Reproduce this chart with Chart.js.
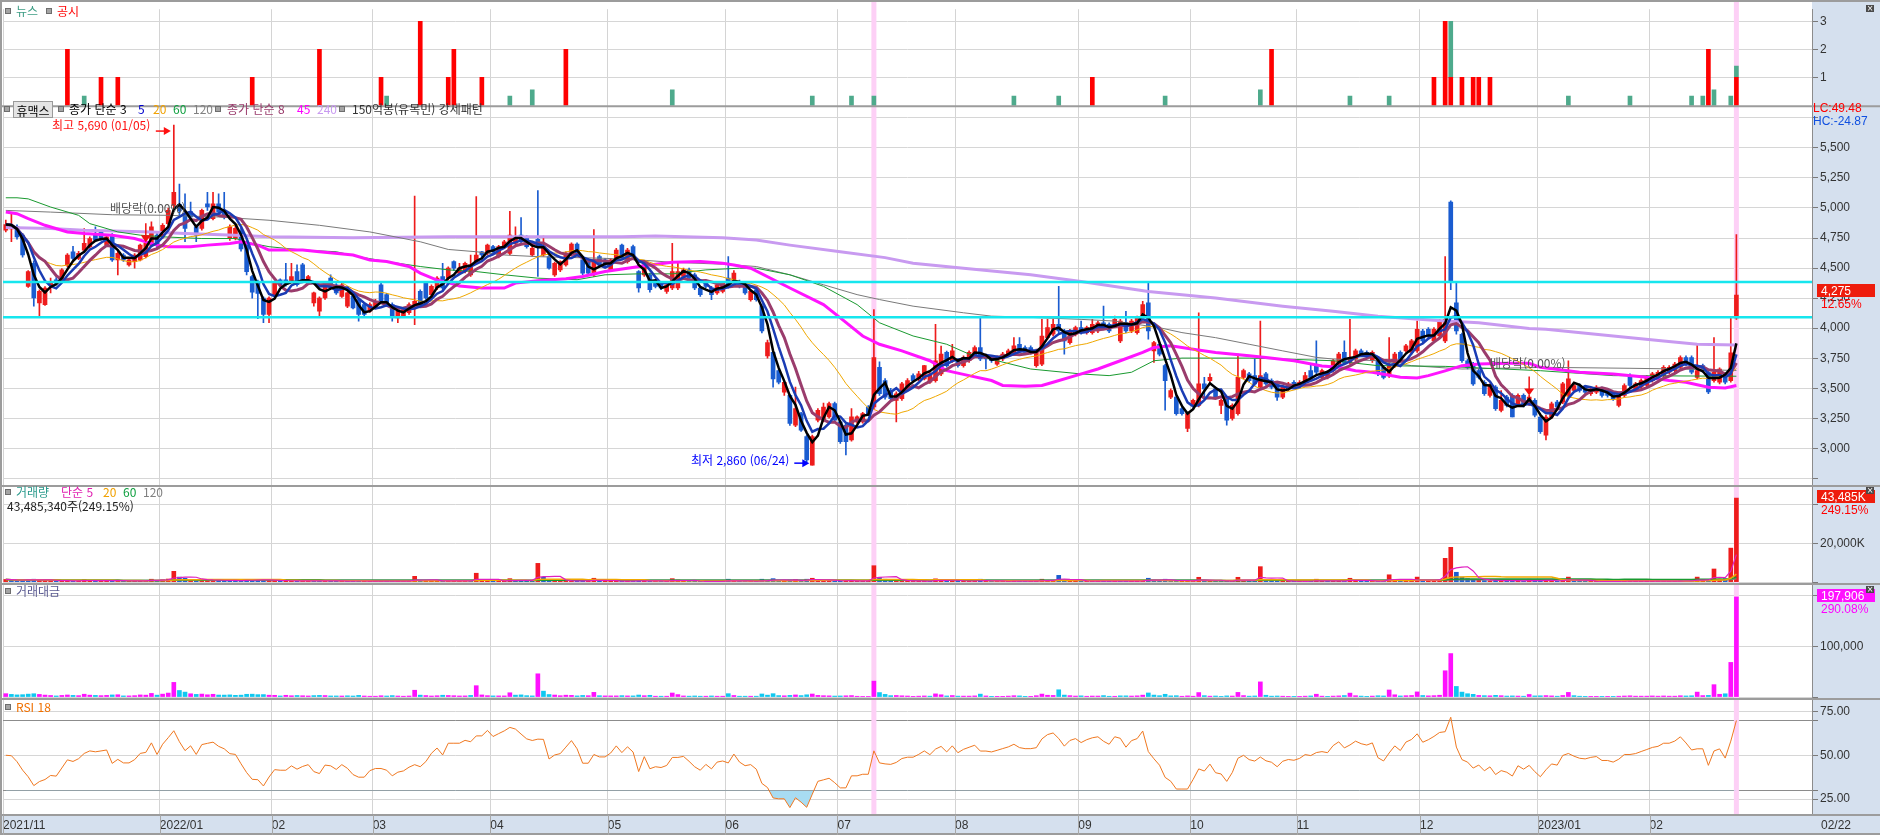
<!DOCTYPE html>
<html lang="ko">
<head>
<meta charset="utf-8">
<title>휴맥스 일봉</title>
<script src="https://cdn.jsdelivr.net/npm/chart.js@4.4.0/dist/chart.umd.min.js"></script>
<style>
html, body { margin: 0; padding: 0; overflow: hidden; background: #fff; }
#wrap { position: relative; width: 1880px; height: 835px; overflow: hidden; }
#wrap canvas { position: absolute; left: 0; top: 0; }
.t { position: absolute; white-space: nowrap; font: 12px "Noto Sans CJK KR", sans-serif; line-height: 14px; }
.n { position: absolute; white-space: nowrap; font: 12px "Liberation Sans", sans-serif; line-height: 14px; }
.sq { position: absolute; width: 4px; height: 4px; background: #a4a4a4; border: 1px solid #6e6e6e; }
.btn { position: absolute; width: 38px; height: 15px; line-height: 15px; text-align: center; background: #e4e4e4; border: 1px solid #9a9a9a; font: 12px "Noto Sans CJK KR", sans-serif; color: #000; }
.box { position: absolute; left: 1817px; width: 54px; height: 13px; line-height: 13px; padding-left: 4px; color: #fff; font: 12px "Liberation Sans", sans-serif; }
.x { position: absolute; left: 1866px; width: 8px; height: 7px; background: #4a4a4a; color: #fff; font: 8px/7px "DejaVu Sans", sans-serif; text-align: center; }
</style>
</head>
<body>
<div id="wrap">
<canvas id="c" width="1880" height="835"></canvas>

<!-- panel legends -->
<div class="sq" style="left:5px;top:8px"></div>
<span class="t" style="left:16px;top:4px;color:#3c9c84">뉴스</span>
<div class="sq" style="left:46px;top:8px"></div>
<span class="t" style="left:57px;top:4px;color:#ff0000">공시</span>

<div class="sq" style="left:4px;top:106px"></div>
<span class="btn" style="left:13px;top:101px">휴맥스</span>
<div class="sq" style="left:58px;top:106px"></div>
<span class="t" style="left:69px;top:102px;color:#000">종가 단순 3</span>
<span class="t" style="left:138px;top:102px;color:#0000cc">5</span>
<span class="t" style="left:153px;top:102px;color:#f0a000">20</span>
<span class="t" style="left:173px;top:102px;color:#10a040">60</span>
<span class="t" style="left:193px;top:102px;color:#808080">120</span>
<div class="sq" style="left:215px;top:106px"></div>
<span class="t" style="left:227px;top:102px;color:#9a3c6c">종가 단순 8</span>
<span class="t" style="left:297px;top:102px;color:#ff00ff">45</span>
<span class="t" style="left:317px;top:102px;color:#c89af0">240</span>
<div class="sq" style="left:339px;top:106px"></div>
<span class="t" style="left:352px;top:102px;color:#333">150억봉(유목민) 강세패턴</span>

<span class="t" style="left:52px;top:118px;color:#ff1010">최고 5,690 (01/05)</span>
<span class="t" style="left:691px;top:453px;color:#0000ff">최저 2,860 (06/24)</span>
<span class="t" style="left:110px;top:201px;color:#555">배당락(0.00%)</span>
<span class="t" style="left:1490px;top:356px;color:#555">배당락(0.00%)</span>

<div class="sq" style="left:5px;top:489px"></div>
<span class="t" style="left:16px;top:485px;color:#2a9a8c">거래량</span>
<span class="t" style="left:61px;top:485px;color:#e020b0">단순 5</span>
<span class="t" style="left:103px;top:485px;color:#f0a000">20</span>
<span class="t" style="left:123px;top:485px;color:#10a040">60</span>
<span class="t" style="left:143px;top:485px;color:#808080">120</span>
<span class="t" style="left:7px;top:499px;color:#222">43,485,340주(249.15%)</span>

<div class="sq" style="left:5px;top:588px"></div>
<span class="t" style="left:16px;top:584px;color:#5a5a90">거래대금</span>

<div class="sq" style="left:5px;top:704px"></div>
<span class="t" style="left:16px;top:700px;color:#f07000">RSI 18</span>

<!-- right axis tags -->
<span class="n" style="left:1813px;top:101px;color:#ff0000">LC:49.48</span>
<span class="n" style="left:1813px;top:114px;color:#1050e0">HC:-24.87</span>
<div class="box" style="top:284px;background:#ee1c0c">4,275</div>
<span class="n" style="left:1821px;top:297px;color:#ff0000">12.65%</span>
<div class="box" style="top:490px;background:#ee1c0c">43,485K</div>
<span class="n" style="left:1821px;top:503px;color:#ff0000">249.15%</span>
<div class="box" style="top:589px;background:#ff10ff">197,906</div>
<span class="n" style="left:1821px;top:602px;color:#ff00ff">290.08%</span>
<span class="n" style="left:1821px;top:818px;color:#333">02/22</span>
<div class="x" style="top:5px">×</div>
<div class="x" style="top:487px">×</div>
<div class="x" style="top:586px">×</div>
</div>

<script>
// daily candles, 2021/11/23 ~ 2023/02/22 (index 0 = first day)
var open = [4815,4825,4845,4774,4348,4540,4210,4196,4361,4403, 4403,4526,4636,4581,4650,4678,4774,4801,4691,4774,
 4568,4609,4526,4554,4568,4595,4691,4774,4760,4870, 5021,5030,4940,4970,4843,4829,5035,4911,5035,4980,
 4746,4746,4810,4691,4430,4375,4251,4114,4279,4403, 4403,4389,4471,4526,4375,4210,4141,4251,4416,4361,
 4265,4183,4265,4238,4196,4141,4169,4361,4279,4196, 4086,4100,4128,4169,4306,4375,4279,4334,4430,4416,
 4554,4458,4471,4444,4554,4636,4623,4678,4595,4678, 4623,4705,4774,4760,4609,4740,4609,4595,4444,4485,
 4526,4609,4700,4568,4568,4444,4595,4568,4485,4581, 4691,4554,4678,4471,4444,4444,4389,4375,4306,4334,
 4334,4430,4485,4444,4334,4389,4334,4293,4306,4416, 4389,4389,4361,4238,4320,4183,3770,3798,3646,3468,
 3440,3193,3289,3097,2860,3234,3234,3262,3372,3220, 3193,3069,3220,3220,3344,3344,3674,3564,3481,3399,
 3413,3495,3605,3578,3578,3550,3564,3619,3798,3729, 3729,3688,3729,3784,3839,3770,3756,3701,3743,3784,
 3798,3866,3839,3839,3688,3701,3921,3949,4031,3976, 3880,3949,4004,3963,3963,3976,4045,4031,4031,3894,
 4045,3976,3963,4100,4210,3811,3866,3688,3426,3426, 3330,3165,3358,3358,3536,3564,3495,3358,3413,3248,
 3289,3591,3619,3605,3509,3619,3564,3536,3426,3495, 3550,3523,3550,3646,3688,3591,3591,3646,3701,3798,
 3715,3743,3811,3798,3729,3729,3674,3605,3688,3798, 3811,3798,3811,3976,3990,3894,3935,3894,5050,4210,
 3949,3729,3701,3646,3550,3440,3509,3316,3426,3440, 3371,3440,3371,3399,3261,3110,3261,3385,3385,3440,
 3481,3523,3509,3454,3468,3495,3481,3454,3358,3440, 3605,3495,3509,3523,3564,3591,3605,3633,3646,3674,
 3756,3756,3591,3688,3633,3564,3550,3591,3564,4086];
var high = [4900,4950,4860,4790,4480,4560,4320,4345,4416,4420, 4495,4620,4680,4640,4829,4760,4843,4815,4770,4788,
 4640,4620,4580,4620,4700,4715,4884,4790,4870,5000, 5690,5200,5118,5050,4860,4990,5131,5131,5118,5131,
 4860,4850,4830,4700,4440,4400,4260,4260,4390,4410, 4540,4540,4526,4540,4440,4300,4260,4390,4444,4370,
 4375,4300,4280,4250,4210,4210,4240,4375,4290,4210, 4150,4165,4210,5100,4320,4390,4360,4430,4540,4510,
 4560,4540,4550,4609,5096,4640,4700,4690,4690,4730, 4972,4843,4920,4770,4680,5145,4766,4610,4550,4560,
 4636,4710,4710,4580,4580,4821,4609,4581,4581,4664, 4700,4664,4691,4480,4540,4458,4400,4390,4375,4705,
 4540,4499,4499,4458,4348,4400,4348,4375,4389,4595, 4480,4400,4375,4320,4334,4200,3900,3810,3660,3560,
 3450,3509,3300,3110,3110,3330,3377,3385,3385,3230, 3200,3330,3270,3300,3355,4155,3720,3580,3500,3470,
 3550,3580,3620,3640,3690,3630,4031,3850,3810,3866, 3740,3770,3811,3853,4086,3784,3770,3770,3798,3825,
 3921,3921,3853,3853,3825,4073,4073,4073,4348,3990, 3990,4018,4059,4018,4073,4059,4183,4045,4100,4073,
 4141,4073,4100,4224,4375,3890,3880,3700,3495,3440, 3344,3300,3410,4128,3591,3619,3509,3410,3426,3371,
 3784,3660,3633,3743,4059,3633,3578,3550,3523,3550, 3564,3564,3633,3701,3894,3660,3646,3740,3798,3894,
 4073,3825,3825,3811,3811,3743,3688,3921,3798,3811, 3866,3908,4059,3990,4004,4004,4073,4595,5060,4375,
 3960,3743,3715,3660,3564,3536,3523,3481,3440,3454, 3454,3454,3440,3413,3275,3275,3385,3399,3550,3729,
 3536,3536,3523,3509,3523,3509,3495,3468,3468,3536, 3619,3550,3578,3605,3633,3646,3688,3688,3715,3770,
 3770,3770,3866,3701,3646,3921,3670,3605,4086,4779];
var low = [4800,4720,4740,4590,4340,4183,4100,4190,4293,4360, 4390,4510,4570,4570,4640,4665,4720,4730,4680,4555,
 4444,4555,4515,4499,4560,4585,4680,4664,4746,4860, 5000,4940,4720,4900,4719,4815,4980,4900,4939,4910,
 4730,4735,4640,4444,4250,4080,4045,4045,4265,4350, 4350,4380,4350,4390,4365,4183,4100,4240,4350,4280,
 4255,4170,4160,4059,4100,4130,4160,4210,4180,4059, 4045,4090,4115,4030,4180,4240,4265,4320,4320,4400,
 4480,4450,4460,4430,4540,4590,4610,4620,4585,4670, 4610,4690,4710,4665,4600,4430,4600,4490,4430,4470,
 4515,4600,4610,4444,4444,4430,4515,4510,4470,4570, 4570,4540,4585,4300,4430,4300,4335,4320,4290,4320,
 4320,4416,4400,4320,4265,4334,4238,4280,4293,4334, 4375,4334,4280,4225,4224,3960,3750,3509,3535,3440,
 3190,3180,3140,2890,2860,3220,3220,3250,3220,3040, 2946,3060,3210,3210,3280,3330,3440,3410,3400,3220,
 3399,3480,3550,3560,3570,3540,3550,3605,3675,3715, 3675,3675,3715,3770,3729,3660,3715,3690,3729,3770,
 3784,3798,3784,3784,3675,3688,3908,3935,3963,3784, 3866,3935,3949,3949,3949,3963,3990,3963,4018,3880,
 3963,3963,3949,4086,3908,3715,3770,3317,3413,3275, 3275,3138,3344,3344,3426,3550,3413,3289,3193,3234,
 3275,3578,3550,3523,3495,3523,3495,3399,3413,3481, 3509,3509,3536,3578,3619,3578,3578,3633,3688,3701,
 3701,3729,3770,3756,3715,3605,3578,3591,3674,3715, 3798,3784,3798,3880,3921,3880,3921,3880,4320,3949,
 3715,3660,3523,3578,3440,3426,3316,3303,3344,3261, 3358,3344,3358,3261,3124,3069,3248,3330,3371,3426,
 3468,3468,3454,3440,3454,3426,3426,3399,3344,3426, 3509,3481,3495,3509,3550,3578,3591,3619,3633,3660,
 3688,3619,3578,3633,3454,3550,3536,3536,3550,4073];
var close = [4862,4855,4760,4609,4471,4251,4306,4334,4389,4375, 4485,4609,4581,4623,4705,4746,4733,4746,4760,4568,
 4623,4568,4568,4609,4691,4705,4843,4691,4856,4980, 5131,4975,4830,4925,4774,4980,5008,5035,4966,4925,
 4843,4830,4660,4471,4300,4290,4114,4251,4375,4361, 4361,4430,4361,4403,4430,4293,4251,4375,4361,4293,
 4361,4293,4169,4114,4114,4196,4224,4224,4196,4100, 4141,4155,4196,4224,4196,4251,4348,4416,4334,4499,
 4499,4499,4540,4526,4609,4610,4691,4636,4678,4719, 4774,4760,4719,4678,4664,4680,4678,4499,4540,4554,
 4623,4700,4623,4458,4458,4554,4526,4526,4568,4650, 4581,4650,4595,4334,4526,4320,4348,4334,4361,4471,
 4471,4485,4416,4334,4279,4348,4279,4361,4375,4348, 4458,4348,4293,4306,4238,3976,3880,3578,3550,3550,
 3207,3330,3152,2904,3097,3317,3344,3372,3234,3056, 3056,3262,3262,3289,3289,3756,3454,3426,3413,3454,
 3536,3564,3564,3619,3688,3619,3729,3784,3688,3811, 3688,3756,3798,3839,3743,3743,3729,3756,3784,3811,
 3853,3811,3798,3798,3811,3935,4004,4031,3976,3894, 3976,4004,3963,4004,4031,4045,4004,3976,4073,4059,
 3976,4059,4086,4196,3976,3880,3784,3564,3481,3289, 3289,3289,3399,3536,3495,3591,3426,3399,3234,3358,
 3591,3646,3564,3536,3605,3536,3509,3426,3509,3536, 3523,3550,3605,3591,3633,3646,3633,3729,3784,3715,
 3756,3811,3784,3770,3798,3633,3591,3688,3784,3729, 3853,3894,3990,3894,3935,3990,4059,4073,4389,3976,
 3729,3674,3536,3591,3454,3523,3330,3399,3358,3261, 3440,3358,3426,3275,3138,3261,3371,3344,3536,3578,
 3523,3481,3468,3495,3509,3440,3440,3413,3454,3523, 3523,3536,3564,3591,3619,3633,3674,3674,3701,3756,
 3701,3633,3646,3646,3470,3633,3660,3550,3795,4275];

// volume (thousand shares) and trading value (million won)
var volume = [1400,1100,900,1000,1300,1500,1200,900,700,500, 700,900,700,600,1200,800,700,600,700,900,
 1000,500,500,600,900,800,1500,800,1200,1600, 5600,2600,2000,1300,1100,1200,900,1100,800,800,
 900,700,800,1200,1300,1100,1200,900,800,500, 800,600,700,600,500,700,800,700,500,500,
 500,600,500,800,500,400,400,600,500,700, 500,400,500,3000,900,700,500,600,800,700,
 600,500,500,700,4600,900,600,500,500,500, 1800,800,900,600,500,9700,2500,1100,900,600,
 800,700,500,700,600,2000,600,500,500,500, 600,500,500,900,600,800,400,400,400,1800,
 1100,500,400,500,400,400,500,400,400,1500, 700,400,400,400,400,1500,1000,1800,800,700,
 1000,1300,900,1500,2000,1000,800,700,600,700, 800,900,500,400,400,8500,2500,1500,800,900,
 700,600,400,500,600,500,1700,1200,600,800, 500,500,500,600,1500,600,400,400,400,500,
 700,600,400,400,700,1500,900,800,3500,1000, 700,500,600,400,500,500,700,400,400,600,
 600,500,600,900,2000,1000,700,1500,700,800, 500,700,500,2500,800,500,600,400,700,600,
 2500,800,500,600,8000,1000,500,600,500,400, 400,400,500,600,1500,500,400,500,600,800,
 2000,700,500,400,500,700,600,3800,1200,600, 700,800,2600,800,600,700,900,12300,18000,5100,
 2600,1800,1500,900,800,700,1000,800,600,700, 600,500,1500,700,800,900,700,500,900,2600,
 800,500,400,400,400,400,400,400,500,600, 700,500,500,500,600,500,600,500,500,700,
 600,700,2600,800,900,6800,1500,1800,17600,43485];
var amount = [6700,5300,4300,4700,5800,6600,5200,3900,3100,2200, 3200,4100,3300,2800,5600,3800,3300,2800,3300,4200,
 4600,2300,2300,2800,4200,3800,7200,3800,5800,7900, 29000,13000,9800,6500,5300,5900,4500,5500,4000,3900,
 4300,3400,3800,5500,5700,4800,4900,3700,3400,2200, 3500,2600,3100,2600,2200,2900,3300,3000,2200,2200,
 2100,2500,2100,3300,2100,1700,1700,2600,2100,2900, 2100,1700,2100,13500,3800,3000,2100,2600,3600,3100,
 2700,2200,2300,3200,22500,4200,2800,2300,2300,2300, 8500,3800,4300,2800,2300,46000,11700,5000,4000,2700,
 3700,3300,2300,3200,2700,9300,2700,2300,2300,2300, 2800,2300,2300,4000,2700,3500,1700,1700,1700,8000,
 4900,2200,1800,2200,1700,1700,2200,1700,1700,6700, 3100,1700,1700,1700,1700,6100,3800,6700,2900,2500,
 3300,4200,2900,4500,6000,3300,2700,2400,2000,2200, 2500,2900,1600,1300,1300,31500,8900,5300,2800,3100,
 2500,2100,1400,1800,2200,1800,6300,4500,2200,3000, 1900,1900,1900,2300,5800,2200,1500,1500,1500,1900,
 2700,2300,1500,1500,2700,5900,3600,3200,14400,3900, 2800,2000,2400,1600,2000,2000,2900,1600,1600,2400,
 2400,2000,2400,3800,8100,3900,2700,5500,2400,2700, 1600,2300,1700,8900,2800,1800,2100,1400,2300,2000,
 9200,2900,1800,2200,30000,3600,1800,2100,1700,1400, 1400,1400,1800,2200,5600,1800,1500,1900,2300,3000,
 7800,2700,1900,1500,1900,2600,2200,14000,4500,2200, 2700,3100,10200,3100,2400,2800,3600,52000,86000,21000,
 9800,6600,5400,3200,2800,2500,3400,2700,2000,2300, 2000,1700,5100,2300,2500,2900,2300,1700,3100,9200,
 2800,1700,1400,1400,1400,1400,1400,1400,1700,2100, 2500,1800,1800,1800,2200,1800,2200,1800,1800,2600,
 2200,2600,9800,2900,3300,24500,5500,6500,68500,197906];

// news / disclosure counts by day index
var discIdx = [11,17,20,44,56,67,74,79,80,85,100,194,226,255,257,258,260,262,263,265,304,309];
var discVal = [2,1,1,1,2,1,3,1,2,1,2,1,2,1,3,1,1,1,1,1,2,1];
var newsIdx = [14,68,90,94,119,144,151,155,180,188,207,224,240,247,258,279,290,301,303,305,308,309];
var newsVal = [0.33,0.33,0.33,0.55,0.55,0.33,0.33,0.33,0.33,0.33,0.33,0.55,0.33,0.33,2,0.33,0.33,0.33,0.33,0.55,0.33,0.4];

// long moving averages (index, price)
var ma45Idx = [0,2,4,7,11,14,19,23,27,29,33,36,40,42,45,47,53,56,62,65,68,72,74,77,79,81,85,89,91,95,100,103,107,111,115,119,124,128,130,133,140,146,149,153,156,160,165,168,172,176,178,182,185,187,191,195,199,203,205,208,212,216,222,225,230,235,238,241,244,249,252,254,257,260,263,268,272,274,281,287,293,297,300,304,307,309];
var ma45Val = [4966,4953,4911,4856,4801,4788,4774,4746,4691,4678,4678,4691,4705,4719,4691,4650,4650,4636,4609,4568,4554,4513,4458,4400,4380,4350,4334,4334,4375,4394,4411,4430,4471,4499,4526,4548,4554,4540,4526,4499,4334,4196,4086,3935,3866,3811,3729,3646,3605,3564,3523,3517,3523,3550,3605,3660,3729,3798,3839,3853,3825,3798,3770,3756,3729,3685,3674,3646,3633,3591,3585,3605,3645,3688,3701,3707,3707,3674,3633,3619,3591,3564,3550,3509,3503,3523];
var ma60Idx = [0,2,4,8,13,15,17,20,24,28,35,41,44,47,53,59,63,68,74,79,84,89,95,102,107,113,119,125,131,134,140,146,152,156,162,168,172,177,183,192,197,201,205,210,222,228,237,245,257,274,287,309];
var ma60Val = [5085,5085,5076,5008,4939,4870,4843,4801,4774,4760,4746,4746,4705,4678,4650,4636,4595,4554,4513,4485,4471,4444,4416,4403,4444,4452,4452,4485,4499,4499,4444,4348,4196,4045,3935,3866,3784,3729,3660,3619,3605,3633,3729,3751,3751,3743,3729,3688,3682,3646,3605,3600];
var ma120Idx = [0,8,19,29,38,47,56,65,74,79,84,89,95,107,113,119,128,134,140,146,152,156,162,171,176,180,192,198,202,206,210,216,222,228,234,237,245,251,260,275,290,299,305,309];
var ma120Val = [4980,4966,4944,4939,4925,4898,4856,4801,4719,4655,4636,4609,4595,4581,4568,4548,4532,4513,4444,4361,4279,4238,4183,4128,4100,4095,4073,4059,4031,4004,3963,3921,3866,3811,3757,3743,3729,3688,3660,3674,3666,3660,3652,3648];
var ma240Idx = [0,8,14,26,32,41,47,62,79,84,110,116,128,134,140,149,157,162,171,183,192,204,216,228,237,245,253,257,263,272,275,287,296,302,309];
var ma240Val = [4837,4829,4815,4801,4788,4774,4760,4752,4760,4760,4760,4766,4752,4733,4691,4636,4587,4540,4499,4444,4389,4306,4251,4183,4141,4100,4073,4059,4045,3998,3990,3935,3894,3866,3860];

var hLines = [4385, 4090];         // user drawn lines
var markDays = [155, 309];         // highlighted days
var divDays = [25, 272];           // ex-dividend markers
var monthIdx = [0, 28, 48, 66, 87, 108, 129, 149, 170, 192, 212, 231, 253, 274, 294];
var monthLab = ['2021/11', '2022/01', '02', '03', '04', '05', '06', '07', '08', '09', '10', '11', '12', '2023/01', '02'];
var priceTicks = [2750, 3000, 3250, 3500, 3750, 4000, 4250, 4500, 4750, 5000, 5250, 5500, 5750];
var newsTicks = [1, 2, 3];
var volTicks = [0, 20000, 40000];
var amtTicks = [0, 100000, 200000];
var rsiTicks = [25, 30, 50, 70, 75];
var rsiSeed = 40;

var RED = '#ee1c1c', BLUE = '#1a5cd0', AXISBG = '#d5e0ee';

function sma(arr, n) {
    return arr.map(function(_, i) {
        var s = Math.max(0, i - n + 1), t = 0;
        for (var k = s; k <= i; k++) t += arr[k];
        return t / (i - s + 1);
    });
}

function rsi(cl, n) {
    var g = rsiSeed, l = rsiSeed, out = [50];
    for (var i = 1; i < cl.length; i++) {
        var d = cl[i] - cl[i - 1];
        g = (g * (n - 1) + Math.max(d, 0)) / n;
        l = (l * (n - 1) + Math.max(-d, 0)) / n;
        out.push(100 - 100 / (1 + g / l));
    }
    return out;
}

function pts(arr) { return arr.map(function(v, i) { return { x: i, y: v }; }); }
function pairs(ix, vals) { return ix.map(function(v, k) { return { x: v, y: vals[k] }; }); }

// candle colour: close vs open; volume colour: close vs previous close
var up = close.map(function(c, i) { return c >= open[i]; });
var upPrev = close.map(function(c, i) { return c >= (i ? close[i - 1] : open[i]); });
var candleCol = up.map(function(u) { return u ? RED : BLUE; });
var volCol = upPrev.map(function(u) { return u ? RED : BLUE; });
var amtCol = upPrev.map(function(u) { return u ? '#ff10ff' : '#10c8f0'; });

function line(data, col, w, axis, order) {
    return { type: 'line', data: data, yAxisID: axis, borderColor: col, borderWidth: w,
             pointRadius: 0, tension: 0, fill: false, order: order };
}

var discMap = {};
discIdx.forEach(function(v, k) { discMap[v] = discVal[k]; });

var datasets = [];
hLines.forEach(function(v) {
    datasets.push(line([{ x: -0.5, y: v }, { x: 322.5, y: v }], '#16e6ee', 2.5, 'yP', 0));
});
datasets.push(line(pts(sma(close, 3)), '#000000', 2.5, 'yP', 1));
datasets.push(line(pts(sma(close, 5)), '#1a3cb4', 2.5, 'yP', 2));
datasets.push(line(pts(sma(close, 8)), '#9a3c6c', 3, 'yP', 3));
datasets.push(line(pts(sma(close, 20)), '#f0a800', 1, 'yP', 4));
datasets.push(line(pairs(ma45Idx, ma45Val), '#ff14ff', 3, 'yP', 5));
datasets.push(line(pairs(ma60Idx, ma60Val), '#1a9a30', 1, 'yP', 6));
datasets.push(line(pairs(ma120Idx, ma120Val), '#7a7a7a', 1, 'yP', 7));
datasets.push(line(pairs(ma240Idx, ma240Val), '#c89af0', 3, 'yP', 8));

// candles: body + wick as floating bars
datasets.push({ type: 'bar', yAxisID: 'yP', order: 9, grouped: false, barThickness: 4, minBarLength: 1,
    data: close.map(function(c, i) { return { x: i, y: [open[i], c] }; }), backgroundColor: candleCol });
datasets.push({ type: 'bar', yAxisID: 'yP', order: 10, grouped: false, barThickness: 1,
    data: close.map(function(c, i) { return { x: i, y: [low[i], high[i]] }; }), backgroundColor: candleCol });

// volume
datasets.push(line(pts(sma(volume, 5)), '#e020c0', 1.2, 'yV', 11));
datasets.push(line(pts(sma(volume, 20)), '#f0a800', 1.5, 'yV', 12));
datasets.push(line(pts(sma(volume, 60)), '#1a9a30', 1.5, 'yV', 13));
datasets.push(line(pts(sma(volume, 120)), '#7a7a7a', 1.5, 'yV', 14));
datasets.push({ type: 'bar', yAxisID: 'yV', order: 15, grouped: false, barThickness: 4,
    data: pts(volume), backgroundColor: volCol });

// trading value
datasets.push({ type: 'bar', yAxisID: 'yT', order: 16, grouped: false, barThickness: 4,
    data: pts(amount), backgroundColor: amtCol });

// news / disclosure
datasets.push({ type: 'bar', yAxisID: 'yN', order: 17, grouped: false, barThickness: 4,
    data: pairs(discIdx, discVal), backgroundColor: '#ff0000' });
datasets.push({ type: 'bar', yAxisID: 'yN', order: 18, grouped: false, barThickness: 4,
    data: newsIdx.map(function(v, k) { var b = discMap[v] || 0; return { x: v, y: [b, b + newsVal[k]] }; }),
    backgroundColor: '#4eaa8c' });

// RSI 18
datasets.push({ type: 'line', yAxisID: 'yR', order: 19, data: pts(rsi(close, 18)), borderColor: '#f07820',
    borderWidth: 1, pointRadius: 0, tension: 0,
    fill: { target: { value: 30 }, above: 'rgba(0,0,0,0)', below: '#a8dcf2' } });

function yAxis(weight, min, max, vals, fmt, gridCol) {
    return {
        type: 'linear', position: 'right', stack: 'panels', stackWeight: weight,
        min: min, max: max, bounds: 'data', offset: false,
        afterFit: function(s) { s.width = 68; },
        afterBuildTicks: function(s) { s.ticks = vals.map(function(v) { return { value: v }; }); },
        border: { color: '#8c8c8c' },
        grid: { color: gridCol || '#d6d6d6', tickLength: 6, tickColor: '#7a7a7a' },
        ticks: { color: '#333', padding: 2, autoSkip: false, font: { family: 'Liberation Sans', size: 12 }, callback: fmt }
    };
}

function arrow(c, x1, x2, y, col) {
    c.strokeStyle = col; c.fillStyle = col; c.lineWidth = 1.5;
    c.beginPath(); c.moveTo(x1, y); c.lineTo(x2 - 5, y); c.stroke();
    c.beginPath(); c.moveTo(x2, y); c.lineTo(x2 - 7, y - 4); c.lineTo(x2 - 7, y + 4); c.closePath(); c.fill();
}

var deco = {
    id: 'deco',
    beforeDraw: function(chart) {
        var c = chart.ctx, a = chart.chartArea;
        c.save();
        c.fillStyle = '#fff';
        c.fillRect(0, 0, chart.width, chart.height);
        c.fillStyle = AXISBG;
        c.fillRect(a.right, 0, chart.width - a.right, chart.height);
        c.fillRect(0, a.bottom, chart.width, chart.height - a.bottom);
        c.restore();
    },
    beforeDatasetsDraw: function(chart) {
        var c = chart.ctx, a = chart.chartArea, x = chart.scales.x;
        c.save();
        c.fillStyle = '#fdd0f6';
        markDays.forEach(function(i) {
            var px = x.getPixelForValue(i);
            c.fillRect(px - 2.5, 0, 5, a.bottom);
        });
        c.restore();
    },
    afterDraw: function(chart) {
        var c = chart.ctx, a = chart.chartArea, x = chart.scales.x, s = chart.scales;
        c.save();
        c.strokeStyle = '#9c9c9c';
        c.lineWidth = 2;
        [s.yN.bottom, s.yP.bottom, s.yV.bottom, s.yT.bottom, a.bottom].forEach(function(y) {
            c.beginPath(); c.moveTo(0, y); c.lineTo(chart.width, y); c.stroke();
        });
        c.beginPath(); c.moveTo(0, 1); c.lineTo(chart.width, 1); c.stroke();
        c.beginPath(); c.moveTo(1, 0); c.lineTo(1, chart.height); c.stroke();
        c.beginPath(); c.moveTo(0, chart.height - 1); c.lineTo(chart.width, chart.height - 1); c.stroke();
        // month separators in the date band
        c.lineWidth = 1;
        c.strokeStyle = '#a8a8a8';
        monthIdx.forEach(function(i) {
            var px = Math.round(x.getPixelForValue(i - 0.5)) + 0.5;
            c.beginPath(); c.moveTo(px, a.bottom); c.lineTo(px, chart.height); c.stroke();
        });
        // high / low arrows
        var hx = x.getPixelForValue(30) - 3;
        arrow(c, hx - 15, hx, s.yP.getPixelForValue(high[30]) + 6, '#ff1010');
        var lx = x.getPixelForValue(144) - 3;
        arrow(c, lx - 15, lx, s.yP.getPixelForValue(low[144]) - 2, '#0000ff');
        // ex-dividend markers
        c.fillStyle = '#f01010'; c.strokeStyle = '#f01010'; c.lineWidth = 1.5;
        divDays.forEach(function(i) {
            var px = x.getPixelForValue(i), py = s.yP.getPixelForValue(high[i]);
            c.beginPath(); c.moveTo(px, py - 19); c.lineTo(px, py - 6); c.stroke();
            c.beginPath(); c.moveTo(px - 5, py - 7); c.lineTo(px + 5, py - 7); c.lineTo(px, py); c.closePath(); c.fill();
        });
        c.restore();
    }
};

new Chart(document.getElementById('c'), {
    data: { datasets: datasets },
    options: {
        responsive: false,
        animation: false,
        devicePixelRatio: 1,
        events: [],
        layout: { padding: { left: 3, top: 2, right: 0, bottom: 0 } },
        plugins: { legend: { display: false }, tooltip: { enabled: false } },
        scales: {
            x: {
                type: 'linear', min: -0.5, max: 322.5, bounds: 'data', offset: false,
                afterFit: function(s) { s.height = 20; },
                afterBuildTicks: function(s) { s.ticks = monthIdx.map(function(v) { return { value: v - 0.5 }; }); },
                grid: { color: '#d4d4d4', drawTicks: false, offset: false },
                border: { display: false },
                ticks: { align: 'start', padding: 3, autoSkip: false, maxRotation: 0, color: '#333',
                         font: { family: 'Liberation Sans', size: 12 },
                         callback: function(v, i) { return monthLab[i]; } }
            },
            yN: yAxis(98, -0.035, 3.43, newsTicks, function(v) { return String(v); }),
            yP: yAxis(383, 2687, 5846, priceTicks, function(v) {
                return (v >= 3000 && v <= 5500) ? v.toLocaleString('en-US') : '';
            }),
            yV: yAxis(99, -1000, 49760, volTicks, function(v) { return v === 20000 ? '20,000K' : ''; }),
            yT: yAxis(116, -3900, 223400, amtTicks, function(v) { return v === 100000 ? '100,000' : ''; }),
            yR: yAxis(117, 16, 82, rsiTicks, function(v) { return (v === 30 || v === 70) ? '' : v.toFixed(2); },
                function(ctx) { return (ctx.tick && (ctx.tick.value === 30 || ctx.tick.value === 70)) ? '#8c8c8c' : '#d6d6d6'; })
        }
    },
    plugins: [deco]
});
</script>
</body>
</html>
